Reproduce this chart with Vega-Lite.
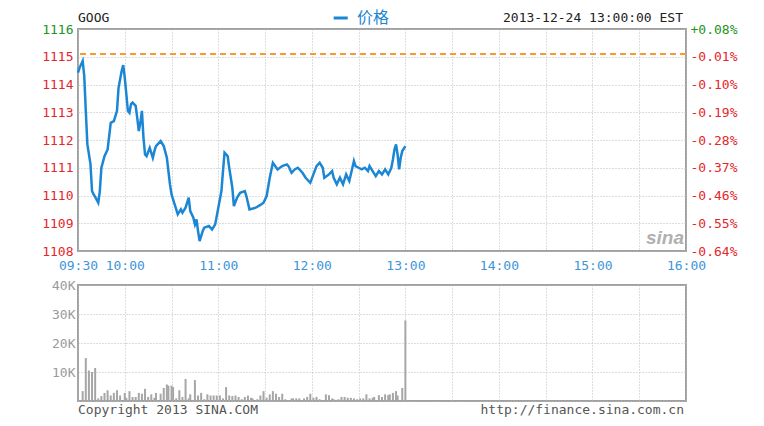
{
  "$schema": "https://vega.github.io/schema/vega-lite/v6.json",
  "background": "white",
  "padding": {"left": 40, "top": 9, "right": 20, "bottom": 10},
  "bounds": "flush",
  "spacing": 34,
  "config": {
    "view": {"stroke": "#a0a0a0", "strokeWidth": 2},
    "axis": {"labelFont": "DejaVu Sans Mono", "labelFontSize": 13, "domain": false, "ticks": false, "gridColor": "#bdbdbd", "gridDash": [1, 2], "gridWidth": 1, "labelOverlap": false, "labelFlush": false, "labelBound": false},
    "text": {"font": "DejaVu Sans Mono", "fontSize": 13}
  },
  "vconcat": [
    {
      "width": 608,
      "height": 222,
      "resolve": {"axis": {"y": "independent"}},
      "layer": [
        {
          "data": {
            "values": [
              {"t": "09:30", "p": 1114.43}, {"t": "09:31", "p": 1114.6}, {"t": "09:33", "p": 1114.85}, {"t": "09:34", "p": 1114.31},
              {"t": "09:35", "p": 1113.05}, {"t": "09:36", "p": 1111.85}, {"t": "09:38", "p": 1111.13}, {"t": "09:39", "p": 1110.16},
              {"t": "09:40", "p": 1110.04}, {"t": "09:41", "p": 1109.95}, {"t": "09:43", "p": 1109.74}, {"t": "09:44", "p": 1110.16},
              {"t": "09:45", "p": 1111.0}, {"t": "09:47", "p": 1111.42}, {"t": "09:49", "p": 1111.66}, {"t": "09:51", "p": 1112.62},
              {"t": "09:53", "p": 1112.68}, {"t": "09:55", "p": 1113.05}, {"t": "09:56", "p": 1113.88}, {"t": "09:58", "p": 1114.49},
              {"t": "09:59", "p": 1114.7}, {"t": "10:00", "p": 1114.25}, {"t": "10:01", "p": 1113.65}, {"t": "10:02", "p": 1113.05},
              {"t": "10:03", "p": 1112.98}, {"t": "10:04", "p": 1113.29}, {"t": "10:05", "p": 1113.35}, {"t": "10:07", "p": 1113.23},
              {"t": "10:08", "p": 1112.8}, {"t": "10:09", "p": 1112.32}, {"t": "10:10", "p": 1112.62}, {"t": "10:11", "p": 1113.05},
              {"t": "10:12", "p": 1112.08}, {"t": "10:13", "p": 1111.48}, {"t": "10:14", "p": 1111.42}, {"t": "10:16", "p": 1111.72},
              {"t": "10:18", "p": 1111.36}, {"t": "10:19", "p": 1111.6}, {"t": "10:20", "p": 1111.78}, {"t": "10:23", "p": 1111.96},
              {"t": "10:25", "p": 1111.78}, {"t": "10:27", "p": 1111.36}, {"t": "10:29", "p": 1110.4}, {"t": "10:30", "p": 1110.04},
              {"t": "10:32", "p": 1109.68}, {"t": "10:34", "p": 1109.32}, {"t": "10:36", "p": 1109.5}, {"t": "10:37", "p": 1109.38},
              {"t": "10:39", "p": 1109.56}, {"t": "10:41", "p": 1109.92}, {"t": "10:42", "p": 1109.44}, {"t": "10:44", "p": 1109.2},
              {"t": "10:45", "p": 1108.96}, {"t": "10:46", "p": 1109.14}, {"t": "10:47", "p": 1108.72}, {"t": "10:48", "p": 1108.36},
              {"t": "10:50", "p": 1108.72}, {"t": "10:51", "p": 1108.84}, {"t": "10:54", "p": 1108.9}, {"t": "10:56", "p": 1108.78},
              {"t": "10:58", "p": 1108.96}, {"t": "11:00", "p": 1109.56}, {"t": "11:02", "p": 1110.16}, {"t": "11:03", "p": 1110.88},
              {"t": "11:04", "p": 1111.54}, {"t": "11:06", "p": 1111.42}, {"t": "11:07", "p": 1111.0}, {"t": "11:09", "p": 1110.28},
              {"t": "11:10", "p": 1109.62}, {"t": "11:12", "p": 1109.92}, {"t": "11:14", "p": 1110.1}, {"t": "11:17", "p": 1110.16},
              {"t": "11:18", "p": 1109.98}, {"t": "11:20", "p": 1109.5}, {"t": "11:24", "p": 1109.56}, {"t": "11:27", "p": 1109.66},
              {"t": "11:29", "p": 1109.74}, {"t": "11:31", "p": 1109.98}, {"t": "11:33", "p": 1110.64}, {"t": "11:35", "p": 1111.18},
              {"t": "11:38", "p": 1110.94}, {"t": "11:41", "p": 1111.06}, {"t": "11:44", "p": 1111.12}, {"t": "11:45", "p": 1111.06},
              {"t": "11:47", "p": 1110.82}, {"t": "11:49", "p": 1110.94}, {"t": "11:51", "p": 1111.0}, {"t": "11:54", "p": 1110.82},
              {"t": "11:56", "p": 1110.64}, {"t": "11:59", "p": 1110.46}, {"t": "12:01", "p": 1110.76}, {"t": "12:03", "p": 1111.06},
              {"t": "12:05", "p": 1111.18}, {"t": "12:07", "p": 1111.0}, {"t": "12:08", "p": 1110.64}, {"t": "12:11", "p": 1110.76},
              {"t": "12:13", "p": 1110.88}, {"t": "12:14", "p": 1110.64}, {"t": "12:16", "p": 1110.4}, {"t": "12:18", "p": 1110.64},
              {"t": "12:20", "p": 1110.4}, {"t": "12:21", "p": 1110.58}, {"t": "12:22", "p": 1110.76}, {"t": "12:24", "p": 1110.52},
              {"t": "12:25", "p": 1110.76}, {"t": "12:27", "p": 1111.24}, {"t": "12:28", "p": 1111.06}, {"t": "12:30", "p": 1111.0},
              {"t": "12:32", "p": 1110.94}, {"t": "12:34", "p": 1111.0}, {"t": "12:36", "p": 1110.88}, {"t": "12:37", "p": 1111.06},
              {"t": "12:39", "p": 1110.88}, {"t": "12:41", "p": 1110.7}, {"t": "12:43", "p": 1110.88}, {"t": "12:45", "p": 1110.76},
              {"t": "12:47", "p": 1110.94}, {"t": "12:49", "p": 1110.76}, {"t": "12:51", "p": 1111.0}, {"t": "12:52", "p": 1111.3},
              {"t": "12:53", "p": 1111.66}, {"t": "12:54", "p": 1111.84}, {"t": "12:55", "p": 1111.48}, {"t": "12:56", "p": 1110.94},
              {"t": "12:57", "p": 1111.36}, {"t": "12:58", "p": 1111.6}, {"t": "13:00", "p": 1111.78}
            ],
            "format": {"parse": {"t": "date:'%H:%M'"}}
          },
          "mark": {"type": "line", "color": "#1b86d3", "strokeWidth": 2.5},
          "encoding": {
            "x": {
              "field": "t", "type": "temporal",
              "scale": {"domain": [{"year": 1900, "month": 1, "date": 1, "hours": 9, "minutes": 30}, {"year": 1900, "month": 1, "date": 1, "hours": 16, "minutes": 0}]},
              "axis": {
                "title": null, "grid": true, "labelColor": "#3d95d9", "labelPadding": 8,
                "values": [
                  {"year": 1900, "month": 1, "date": 1, "hours": 9, "minutes": 30},
                  {"year": 1900, "month": 1, "date": 1, "hours": 10, "minutes": 0},
                  {"year": 1900, "month": 1, "date": 1, "hours": 10, "minutes": 30},
                  {"year": 1900, "month": 1, "date": 1, "hours": 11, "minutes": 0},
                  {"year": 1900, "month": 1, "date": 1, "hours": 11, "minutes": 30},
                  {"year": 1900, "month": 1, "date": 1, "hours": 12, "minutes": 0},
                  {"year": 1900, "month": 1, "date": 1, "hours": 12, "minutes": 30},
                  {"year": 1900, "month": 1, "date": 1, "hours": 13, "minutes": 0},
                  {"year": 1900, "month": 1, "date": 1, "hours": 13, "minutes": 30},
                  {"year": 1900, "month": 1, "date": 1, "hours": 14, "minutes": 0},
                  {"year": 1900, "month": 1, "date": 1, "hours": 14, "minutes": 30},
                  {"year": 1900, "month": 1, "date": 1, "hours": 15, "minutes": 0},
                  {"year": 1900, "month": 1, "date": 1, "hours": 15, "minutes": 30},
                  {"year": 1900, "month": 1, "date": 1, "hours": 16, "minutes": 0}
                ],
                "labelExpr": "minutes(datum.value) == 30 && hours(datum.value) != 9 ? '' : timeFormat(datum.value, '%H:%M')"
              }
            },
            "y": {
              "field": "p", "type": "quantitative",
              "scale": {"domain": [1108, 1116], "nice": false, "zero": false},
              "axis": {
                "orient": "left", "title": null, "grid": true, "format": "d", "labelPadding": 5,
                "values": [1108, 1109, 1110, 1111, 1112, 1113, 1114, 1115, 1116],
                "labelColor": {"condition": {"test": "datum.value > 1115.1", "value": "#1e941e"}, "value": "#e5262b"}
              }
            }
          }
        },
        {
          "data": {"values": [{"prevClose": 1115.1}]},
          "mark": {"type": "rule", "color": "#f59b2f", "strokeDash": [6, 4], "strokeWidth": 2},
          "encoding": {
            "y": {
              "field": "prevClose", "type": "quantitative",
              "axis": {
                "orient": "right", "title": null, "grid": false, "labelPadding": 4,
                "values": [1108, 1109, 1110, 1111, 1112, 1113, 1114, 1115, 1116],
                "labelExpr": "(datum.value >= 1115.1 ? '+' : '-') + format(abs(datum.value - 1115.1) / 1115.1 * 100, '.2f') + '%'",
                "labelColor": {"condition": {"test": "datum.value > 1115.1", "value": "#1e941e"}, "value": "#e5262b"}
              }
            }
          }
        },
        {
          "data": {"values": [{}]},
          "mark": {"type": "text", "align": "left", "baseline": "bottom", "dy": -4, "color": "#222222"},
          "encoding": {
            "x": {"datum": {"year": 1900, "month": 1, "date": 1, "hours": 9, "minutes": 30}, "type": "temporal"},
            "y": {"datum": 1116, "type": "quantitative", "axis": null},
            "text": {"value": "GOOG"}
          }
        },
        {
          "data": {"values": [{}]},
          "mark": {"type": "rule", "color": "#1b86d3", "strokeWidth": 3, "yOffset": -11},
          "encoding": {
            "x": {"datum": {"year": 1900, "month": 1, "date": 1, "hours": 12, "minutes": 14}, "type": "temporal"},
            "x2": {"datum": {"year": 1900, "month": 1, "date": 1, "hours": 12, "minutes": 23}},
            "y": {"datum": 1116, "type": "quantitative", "axis": null}
          }
        },
        {
          "data": {"values": [{}]},
          "mark": {"type": "text", "align": "left", "baseline": "bottom", "dy": -3, "color": "#1b86d3", "font": "Noto Sans CJK SC", "fontSize": 16},
          "encoding": {
            "x": {"datum": {"year": 1900, "month": 1, "date": 1, "hours": 12, "minutes": 29}, "type": "temporal"},
            "y": {"datum": 1116, "type": "quantitative", "axis": null},
            "text": {"value": "价格"}
          }
        },
        {
          "data": {"values": [{}]},
          "mark": {"type": "text", "align": "right", "baseline": "bottom", "dy": -4, "dx": -3, "color": "#222222"},
          "encoding": {
            "x": {"datum": {"year": 1900, "month": 1, "date": 1, "hours": 16, "minutes": 0}, "type": "temporal"},
            "y": {"datum": 1116, "type": "quantitative", "axis": null},
            "text": {"value": "2013-12-24 13:00:00 EST"}
          }
        },
        {
          "data": {"values": [{}]},
          "mark": {"type": "text", "align": "right", "baseline": "bottom", "dy": -3, "dx": -2, "color": "#b0b0b0", "font": "Liberation Sans", "fontSize": 19, "fontStyle": "italic", "fontWeight": "bold"},
          "encoding": {
            "x": {"datum": {"year": 1900, "month": 1, "date": 1, "hours": 16, "minutes": 0}, "type": "temporal"},
            "y": {"datum": 1108, "type": "quantitative", "axis": null},
            "text": {"value": "sina"}
          }
        }
      ]
    },
    {
      "width": 608,
      "height": 116,
      "resolve": {"axis": {"x": "independent", "y": "independent"}},
      "layer": [
        {
          "data": {
            "values": [
              {"t": "09:30", "v": 20000}, {"t": "09:33", "v": 3400}, {"t": "09:35", "v": 14800}, {"t": "09:37", "v": 10500},
              {"t": "09:39", "v": 10000}, {"t": "09:41", "v": 11400}, {"t": "09:43", "v": 900}, {"t": "09:45", "v": 1700},
              {"t": "09:47", "v": 2800}, {"t": "09:49", "v": 3700}, {"t": "09:51", "v": 1900}, {"t": "09:53", "v": 2800},
              {"t": "09:55", "v": 3700}, {"t": "09:57", "v": 1900}, {"t": "10:00", "v": 2800}, {"t": "10:01", "v": 1100},
              {"t": "10:03", "v": 3400}, {"t": "10:05", "v": 1400}, {"t": "10:07", "v": 1400}, {"t": "10:09", "v": 2800},
              {"t": "10:11", "v": 2500}, {"t": "10:13", "v": 4200}, {"t": "10:15", "v": 1400}, {"t": "10:17", "v": 2300},
              {"t": "10:19", "v": 1100}, {"t": "10:20", "v": 2800}, {"t": "10:23", "v": 2500}, {"t": "10:25", "v": 4500},
              {"t": "10:27", "v": 5700}, {"t": "10:28", "v": 5300}, {"t": "10:30", "v": 5300}, {"t": "10:31", "v": 4800},
              {"t": "10:33", "v": 900}, {"t": "10:35", "v": 3700}, {"t": "10:37", "v": 1400}, {"t": "10:39", "v": 7600},
              {"t": "10:41", "v": 900}, {"t": "10:42", "v": 2300}, {"t": "10:45", "v": 7200}, {"t": "10:47", "v": 1900},
              {"t": "10:49", "v": 2800}, {"t": "10:51", "v": 600}, {"t": "10:53", "v": 2300}, {"t": "10:55", "v": 1900},
              {"t": "10:57", "v": 1900}, {"t": "10:59", "v": 1900}, {"t": "11:01", "v": 1900}, {"t": "11:03", "v": 900},
              {"t": "11:05", "v": 4800}, {"t": "11:07", "v": 1900}, {"t": "11:09", "v": 1700}, {"t": "11:11", "v": 1900},
              {"t": "11:13", "v": 1400}, {"t": "11:15", "v": 600}, {"t": "11:17", "v": 1400}, {"t": "11:19", "v": 1900},
              {"t": "11:21", "v": 1100}, {"t": "11:22", "v": 900}, {"t": "11:25", "v": 600}, {"t": "11:27", "v": 1900},
              {"t": "11:29", "v": 3400}, {"t": "11:31", "v": 1100}, {"t": "11:33", "v": 2300}, {"t": "11:35", "v": 3400},
              {"t": "11:37", "v": 2500}, {"t": "11:39", "v": 1400}, {"t": "11:41", "v": 2500}, {"t": "11:43", "v": 600},
              {"t": "11:47", "v": 900}, {"t": "11:48", "v": 900}, {"t": "11:50", "v": 900}, {"t": "11:52", "v": 900},
              {"t": "11:55", "v": 900}, {"t": "11:57", "v": 1400}, {"t": "11:59", "v": 2500}, {"t": "12:01", "v": 1100},
              {"t": "12:03", "v": 1400}, {"t": "12:05", "v": 600}, {"t": "12:09", "v": 2300}, {"t": "12:11", "v": 2000},
              {"t": "12:13", "v": 900}, {"t": "12:14", "v": 600}, {"t": "12:17", "v": 600}, {"t": "12:19", "v": 1400},
              {"t": "12:21", "v": 1400}, {"t": "12:23", "v": 1100}, {"t": "12:25", "v": 1100}, {"t": "12:27", "v": 900},
              {"t": "12:29", "v": 600}, {"t": "12:31", "v": 900}, {"t": "12:33", "v": 900}, {"t": "12:35", "v": 2300},
              {"t": "12:37", "v": 900}, {"t": "12:39", "v": 1100}, {"t": "12:40", "v": 1400}, {"t": "12:43", "v": 2000},
              {"t": "12:45", "v": 1400}, {"t": "12:47", "v": 2300}, {"t": "12:49", "v": 2000}, {"t": "12:50", "v": 2300},
              {"t": "12:52", "v": 2800}, {"t": "12:54", "v": 3400}, {"t": "12:55", "v": 1900}, {"t": "12:58", "v": 4500},
              {"t": "13:00", "v": 27800}
            ],
            "format": {"parse": {"t": "date:'%H:%M'"}}
          },
          "mark": {"type": "rule", "color": "#a6a6a6", "strokeWidth": 2},
          "encoding": {
            "x": {
              "field": "t", "type": "temporal",
              "scale": {"domain": [{"year": 1900, "month": 1, "date": 1, "hours": 9, "minutes": 30}, {"year": 1900, "month": 1, "date": 1, "hours": 16, "minutes": 0}]},
              "axis": {
                "title": null, "grid": true, "labels": false,
                "values": [
                  {"year": 1900, "month": 1, "date": 1, "hours": 9, "minutes": 30},
                  {"year": 1900, "month": 1, "date": 1, "hours": 10, "minutes": 0},
                  {"year": 1900, "month": 1, "date": 1, "hours": 10, "minutes": 30},
                  {"year": 1900, "month": 1, "date": 1, "hours": 11, "minutes": 0},
                  {"year": 1900, "month": 1, "date": 1, "hours": 11, "minutes": 30},
                  {"year": 1900, "month": 1, "date": 1, "hours": 12, "minutes": 0},
                  {"year": 1900, "month": 1, "date": 1, "hours": 12, "minutes": 30},
                  {"year": 1900, "month": 1, "date": 1, "hours": 13, "minutes": 0},
                  {"year": 1900, "month": 1, "date": 1, "hours": 13, "minutes": 30},
                  {"year": 1900, "month": 1, "date": 1, "hours": 14, "minutes": 0},
                  {"year": 1900, "month": 1, "date": 1, "hours": 14, "minutes": 30},
                  {"year": 1900, "month": 1, "date": 1, "hours": 15, "minutes": 0},
                  {"year": 1900, "month": 1, "date": 1, "hours": 15, "minutes": 30},
                  {"year": 1900, "month": 1, "date": 1, "hours": 16, "minutes": 0}
                ]
              }
            },
            "y": {
              "field": "v", "type": "quantitative",
              "scale": {"domain": [0, 40000], "nice": false},
              "axis": {
                "title": null, "grid": true, "labelColor": "#9a9a9a", "labelPadding": 3,
                "values": [0, 10000, 20000, 30000, 40000],
                "labelExpr": "datum.value == 0 ? '' : (datum.value / 1000) + 'K'"
              }
            },
            "y2": {"datum": 0}
          }
        },
        {
          "data": {"values": [{}]},
          "mark": {"type": "text", "align": "left", "baseline": "top", "dy": 3, "color": "#555555"},
          "encoding": {
            "x": {"datum": {"year": 1900, "month": 1, "date": 1, "hours": 9, "minutes": 30}, "type": "temporal", "axis": null},
            "y": {"datum": 0, "type": "quantitative", "axis": null},
            "text": {"value": "Copyright 2013 SINA.COM"}
          }
        },
        {
          "data": {"values": [{}]},
          "mark": {"type": "text", "align": "right", "baseline": "top", "dy": 3, "dx": -2, "color": "#555555"},
          "encoding": {
            "x": {"datum": {"year": 1900, "month": 1, "date": 1, "hours": 16, "minutes": 0}, "type": "temporal", "axis": null},
            "y": {"datum": 0, "type": "quantitative", "axis": null},
            "text": {"value": "http://finance.sina.com.cn"}
          }
        }
      ]
    }
  ]
}
